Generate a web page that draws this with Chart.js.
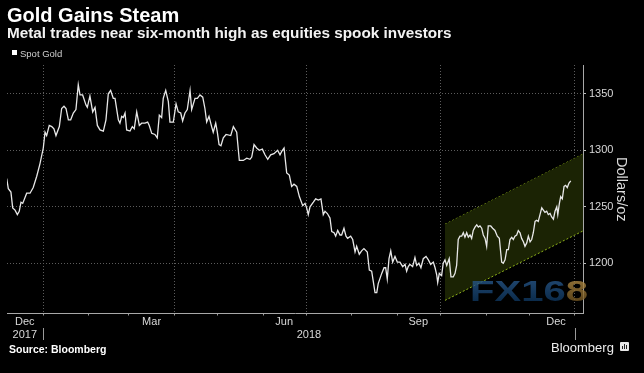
<!DOCTYPE html>
<html>
<head>
<meta charset="utf-8">
<script src="https://cdn.jsdelivr.net/npm/chart.js@4.4.0/dist/chart.umd.min.js"></script>
<style>
  html, body { margin: 0; padding: 0; background: #000; }
  body { width: 644px; height: 373px; position: relative; overflow: hidden; font-family: "Liberation Sans", Arial, sans-serif; }
  #chart { position: absolute; left: 0; top: 0; }
  .txt { position: absolute; white-space: nowrap; color: #fff; }
  #title { left: 7px; top: 5px; font-size: 20px; line-height: 20px; font-weight: bold; }
  #subtitle { left: 7px; top: 24.5px; font-size: 15.3px; line-height: 15.3px; font-weight: bold; color: #f2f2f2; }
  #legendBox { position: absolute; left: 12px; top: 50px; width: 5px; height: 5px; background: #fff; }
  #legendText { left: 20px; top: 49px; font-size: 9.5px; line-height: 10px; color: #cfcfcf; }
  #source { left: 9px; top: 343.5px; font-size: 10.5px; line-height: 10.5px; font-weight: bold; }
  #brand { left: 551px; top: 340.5px; font-size: 13px; line-height: 13px; color: #ececec; }
  #brandIcon { position: absolute; left: 620px; top: 342px; width: 9px; height: 9px; background: #e8e8e8; border-radius: 1px; }
  #brandIcon i { position: absolute; bottom: 2px; width: 1px; background: #222; }
</style>
</head>
<body>
<canvas id="chart" width="644" height="373"></canvas>
<div class="txt" id="title">Gold Gains Steam</div>
<div class="txt" id="subtitle">Metal trades near six-month high as equities spook investors</div>
<div id="legendBox"></div>
<div class="txt" id="legendText">Spot Gold</div>
<div class="txt" id="source">Source: Bloomberg</div>
<div class="txt" id="brand">Bloomberg</div>
<div id="brandIcon"><i style="left:2px;height:3px"></i><i style="left:4px;height:5px"></i><i style="left:6px;height:4px"></i></div>

<script>
// Spot gold, days counted from 1 Jan 2018
const goldDays = [-24.9,-23.8,-22.0,-20.8,-19.2,-17.6,-16.3,-15.1,-13.9,-11.2,
  -8.9,-6.7,-4.3,-2.1,0.2,1.4,2.5,4.3,6.0,7.5,
  8.9,11.2,12.8,14.4,15.8,17.4,19.0,20.8,22.6,24.2,
  25.4,27.2,29.5,30.4,32.2,34.1,35.7,37.3,39.1,41.4,
  43.2,44.8,46.4,48.2,49.4,51.7,52.8,54.0,55.1,56.3,
  57.4,59.7,61.3,62.6,64.3,66.1,67.7,70.0,71.8,72.9,
  74.6,76.8,78.4,79.8,81.4,82.5,84.2,86.0,87.1,89.4,
  91.3,92.8,94.5,95.8,97.4,99.0,100.9,102.0,104.3,105.9,
  107.7,109.6,111.1,112.3,113.9,115.7,116.8,118.5,119.6,120.8,
  122.1,123.7,125.6,128.8,130.6,132.9,134.7,137.4,139.8,142.0,
  143.2,144.8,146.6,148.4,150.5,152.3,154.2,156.2,158.5,161.0,
  162.6,163.8,165.4,167.2,169.0,170.6,172.2,174.1,175.9,178.2,
  179.8,180.9,182.0,183.2,185.5,187.1,188.9,190.7,192.3,193.5,
  195.1,196.9,198.1,199.7,200.8,202.2,203.8,204.9,206.5,207.9,
  209.0,211.1,212.5,214.1,215.2,217.0,218.6,220.2,222.5,223.9,
  225.5,226.6,227.8,229.0,230.0,232.4,234.0,235.1,236.2,237.4,
  238.6,239.9,241.5,243.1,244.9,246.8,248.4,249.5,250.6,251.7,
  253.6,255.2,256.4,257.9,259.3,260.9,262.8,264.4,266.0,267.8,
  269.0,270.1,270.8,271.9,273.5,274.6,275.8,277.0,278.7,279.9,
  281.5,282.7,283.8,284.9,286.1,287.3,288.4,289.5,290.7,291.8,
  293.0,294.1,295.2,296.4,297.6,298.7,299.8,301.0,302.1,303.3,
  304.4,305.5,307.2,308.5,310.1,311.7,313.1,314.0,314.7,315.8,
  317.0,318.2,319.3,320.4,321.6,322.7,323.8,325.0,326.1,327.3,
  328.4,329.6,330.7,331.9,333.0,334.2,335.3,336.4,337.6,338.7,
  339.8,341.0,342.2,343.3,344.4,345.6,346.7,347.9,349.0,350.2,
  351.3,352.5,353.2,354.3,355.2,356.3,357.5,358.6,359.7,360.9,362.1];

const goldPrices = [1275,1266,1263,1249,1247,1243,1246,1254,1253,1262,
  1262,1267,1277,1288,1302,1316,1313,1322,1321,1319,
  1313,1321,1337,1339,1337,1327,1327,1333,1336,1358,
  1349,1349,1340,1338,1348,1334,1338,1322,1318,1317,
  1327,1350,1353,1346,1346,1327,1324,1330,1329,1333,
  1318,1317,1321,1319,1334,1322,1324,1324,1325,1322,
  1315,1314,1311,1331,1329,1346,1353,1343,1325,1325,
  1341,1334,1333,1326,1333,1336,1353,1336,1346,1346,
  1349,1347,1337,1325,1330,1321,1316,1324,1316,1305,
  1304,1311,1314,1313,1321,1316,1291,1291,1293,1292,
  1294,1305,1302,1300,1301,1296,1292,1296,1297,1300,
  1296,1299,1302,1280,1278,1268,1270,1268,1259,1251,
  1253,1249,1243,1250,1254,1257,1256,1257,1243,1246,
  1244,1240,1228,1227,1224,1229,1225,1225,1231,1224,
  1222,1224,1221,1210,1215,1208,1211,1213,1210,1194,
  1193,1184,1174,1174,1182,1191,1196,1196,1186,1204,
  1211,1201,1206,1201,1201,1197,1199,1193,1197,1199,
  1197,1205,1198,1200,1196,1204,1206,1203,1199,1201,
  1196,1190,1183,1191,1189,1200,1203,1198,1204,1188,
  1188,1191,1198,1221,1224,1224,1227,1223,1227,1223,
  1225,1222,1229,1232,1234,1232,1233,1231,1225,1222,
  1215,1233,1233,1231,1229,1224,1222,1210,1201,1200,
  1203,1212,1212,1221,1223,1221,1224,1225,1229,1227,
  1222,1219,1215,1218,1224,1219,1221,1227,1237,1238,
  1237,1243,1249,1247,1245,1246,1243,1244,1241,1239,
  1246,1250,1243,1253,1259,1257,1268,1269,1267,1271,1273];

// rising channel drawn over the last quarter
const channelDays = [275.8, 370.5];
const channelUpper = [1234.5, 1296.6];
const channelLower = [1167.1, 1228.6];

// axes
const xMin = -24.7, xMax = 370.5;
const yMin = 1155.5, yMax = 1375.5;
const yTicks = [1200, 1250, 1300, 1350];
const monthStarts = [0, 31, 59, 90, 120, 151, 181, 212, 243, 273, 304, 334, 365];
const quarterEnds = [0, 90, 181, 273, 365];
const labelDays = [-12.5, 74.5, 165.5, 182.5, 257.5, 352];
const labelTexts = [['Dec', '2017'], 'Mar', 'Jun', ['', '2018'], 'Sep', 'Dec'];
const yearBreaks = [0, 365];

const FONT = '"Liberation Sans", Arial, sans-serif';

function pairs(xs, ys) {
    return xs.map((x, i) => ({ x: x, y: ys[i] }));
}

const xTickValues = monthStarts.concat(labelDays).sort((a, b) => a - b);

// year separators under the month labels, and the watermark
const extrasPlugin = {
    id: 'extras',
    afterDatasetsDraw(chart) {
        const ctx = chart.ctx;
        ctx.save();
        ctx.globalAlpha = 0.8;
        ctx.font = 'bold 29px ' + FONT;
        ctx.textBaseline = 'alphabetic';
        ctx.translate(470, 301);
        ctx.scale(1.38, 1);
        const g1 = ctx.createLinearGradient(0, -21, 0, 0);
        g1.addColorStop(0, '#27578a');
        g1.addColorStop(1, '#0e365e');
        ctx.fillStyle = g1;
        ctx.fillText('FX16', 0, 0);
        const w = ctx.measureText('FX16').width;
        const g2 = ctx.createLinearGradient(0, -21, 0, 0);
        g2.addColorStop(0, '#b08a44');
        g2.addColorStop(1, '#735520');
        ctx.fillStyle = g2;
        ctx.fillText('8', w, 0);
        ctx.restore();
    },
    afterDraw(chart) {
        const ctx = chart.ctx;
        const x = chart.scales.x;
        ctx.save();
        ctx.strokeStyle = '#9a9a9a';
        ctx.lineWidth = 1;
        yearBreaks.forEach(d => {
            const px = Math.round(x.getPixelForValue(d)) + 0.5;
            ctx.beginPath();
            ctx.moveTo(px, 328);
            ctx.lineTo(px, 340);
            ctx.stroke();
        });
        ctx.restore();
    }
};

Chart.defaults.font.family = FONT;

new Chart(document.getElementById('chart'), {
    type: 'line',
    data: {
        datasets: [
            {
                label: 'Spot Gold',
                data: pairs(goldDays, goldPrices),
                borderColor: '#e8e8e8',
                borderWidth: 1.3,
                pointRadius: 0,
                tension: 0,
                fill: false,
                order: 0
            },
            {
                label: 'upper',
                data: pairs(channelDays, channelUpper),
                borderColor: '#8fb21a',
                borderWidth: 1,
                borderDash: [2, 2],
                pointRadius: 0,
                fill: false,
                order: 2
            },
            {
                label: 'lower',
                data: pairs(channelDays, channelLower),
                borderColor: '#8fb21a',
                borderWidth: 1,
                borderDash: [2, 2],
                pointRadius: 0,
                fill: { target: '-1' },
                backgroundColor: 'rgb(27, 35, 4)',
                order: 1
            }
        ]
    },
    options: {
        responsive: false,
        animation: false,
        devicePixelRatio: 1,
        layout: { padding: { left: 7, right: 0, top: 65, bottom: 29.5 } },
        plugins: {
            legend: { display: false },
            tooltip: { enabled: false }
        },
        scales: {
            x: {
                type: 'linear',
                min: xMin,
                max: xMax,
                afterBuildTicks: s => { s.ticks = xTickValues.map(v => ({ value: v })); },
                afterFit: s => { s.height = 30; },
                ticks: {
                    autoSkip: false,
                    maxRotation: 0,
                    padding: 0,
                    color: '#d8d8d8',
                    font: { size: 11, lineHeight: '13px' },
                    callback: v => {
                        const i = labelDays.indexOf(v);
                        return i >= 0 ? labelTexts[i] : '';
                    }
                },
                grid: {
                    lineWidth: 1,
                    tickLength: 2,
                    color: c => (c.tick && quarterEnds.includes(c.tick.value)) ? '#5c5c5c' : 'rgba(0,0,0,0)',
                    tickColor: c => (c.tick && monthStarts.includes(c.tick.value)) ? '#9a9a9a' : 'rgba(0,0,0,0)'
                },
                border: { display: true, color: '#a8a8a8', width: 1, dash: [1, 2] }
            },
            y: {
                type: 'linear',
                position: 'right',
                min: yMin,
                max: yMax,
                afterBuildTicks: s => { s.ticks = yTicks.map(v => ({ value: v })); },
                afterFit: s => { s.width = 61; },
                ticks: {
                    padding: 3,
                    color: '#d8d8d8',
                    font: { size: 11 },
                    callback: v => String(v)
                },
                grid: {
                    lineWidth: 1,
                    tickLength: 3,
                    color: '#5c5c5c',
                    tickColor: '#bdbdbd'
                },
                border: { display: true, color: '#a8a8a8', width: 1, dash: [1, 2] },
                title: {
                    display: true,
                    text: 'Dollars/oz',
                    color: '#dcdcdc',
                    font: { size: 14.5 },
                    padding: { top: 14, bottom: 0 }
                }
            }
        }
    },
    plugins: [extrasPlugin]
});
</script>
</body>
</html>
